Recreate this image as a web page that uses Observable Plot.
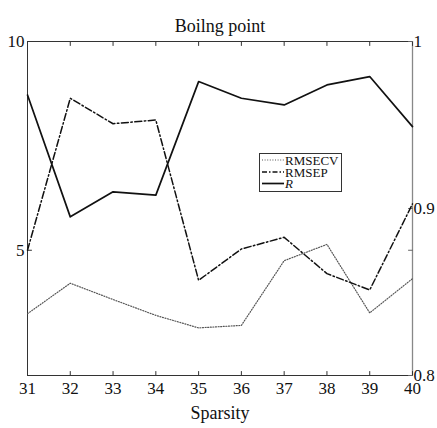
<!DOCTYPE html>
<html><head><meta charset="utf-8">
<script src="https://cdn.jsdelivr.net/npm/d3@7"></script>
<script src="https://cdn.jsdelivr.net/npm/@observablehq/plot@0.6"></script>
<style>
body{margin:0;background:#fff;}
#wrap{position:relative;width:437px;height:428px;}
#legend{position:absolute;left:259px;top:153px;}
#wrap svg, #wrap svg text{font-family:"Liberation Serif","Times New Roman",serif !important;}
</style></head><body><div id="wrap"></div>
<script>
const sparsity = [31, 32, 33, 34, 35, 36, 37, 38, 39, 40];
const rmsecv = [3.48, 4.21, 3.82, 3.44, 3.14, 3.20, 4.75, 5.14, 3.50, 4.32];
const rmsep  = [5.00, 8.64, 8.03, 8.12, 4.28, 5.03, 5.31, 4.44, 4.05, 6.11];
const rValues = [0.968, 0.895, 0.910, 0.908, 0.976, 0.966, 0.962, 0.974, 0.979, 0.949];
const xTicks = sparsity;
const leftTicks = [5, 10];
const rightTicks = [0.8, 0.9, 1];
const leftDomain = [2, 10];
const rightDomain = [0.8, 1];
const seriesNames = ["RMSECV", "RMSEP", "R"];
const titleText = "Boilng point";
const xLabel = "Sparsity";

const toLeft = r => leftDomain[0] + (r - rightDomain[0]) / (rightDomain[1] - rightDomain[0]) * (leftDomain[1] - leftDomain[0]);
const fromLeft = v => rightDomain[0] + (v - leftDomain[0]) / (leftDomain[1] - leftDomain[0]) * (rightDomain[1] - rightDomain[0]);

const data = sparsity.map((s, i) => ({s, rmsecv: rmsecv[i], rmsep: rmsep[i], r: toLeft(rValues[i])}));

const tickShape = {draw(ctx, l) { ctx.moveTo(0, 0); ctx.lineTo(0, -l); }};
const tickOpts = {length: 4, anchor: "start", shape: tickShape, stroke: "#333", strokeWidth: 1};
const font = "'Liberation Serif', 'Times New Roman', serif";

const chart = Plot.plot({
  width: 437, height: 428,
  marginLeft: 27, marginRight: 25, marginTop: 41, marginBottom: 53,
  style: {fontFamily: font, fontSize: "17px", background: "#fff", color: "#111"},
  x: {domain: [sparsity[0], sparsity[sparsity.length - 1]]},
  y: {domain: leftDomain},
  marks: [
    Plot.frame({stroke: "#333"}),
    Plot.ruleX([sparsity[sparsity.length - 1]], {stroke: "#888", strokeWidth: 1.3}),
    Plot.axisX(xTicks, {tickSize: 0, tickPadding: 6, fontSize: 17, label: null}),
    Plot.axisY(leftTicks, {anchor: "left", tickSize: 0, tickPadding: 3, fontSize: 17, label: null}),
    Plot.axisY(rightTicks.map(toLeft), {anchor: "right", tickSize: 0, tickPadding: 1, fontSize: 17, label: null,
      tickFormat: d => String(+fromLeft(d).toFixed(1))}),
    Plot.vector(xTicks, {x: d => d, frameAnchor: "bottom", rotate: 0, ...tickOpts}),
    Plot.vector(xTicks, {x: d => d, frameAnchor: "top", rotate: 180, ...tickOpts}),
    Plot.vector(leftTicks, {y: d => d, frameAnchor: "left", rotate: 90, ...tickOpts}),
    Plot.vector(rightTicks.map(toLeft).concat(leftTicks.slice(0, 1)), {y: d => d, frameAnchor: "right", rotate: 270, ...tickOpts, stroke: "#666"}),
    Plot.line(data, {x: "s", y: "rmsecv", stroke: "#555", strokeWidth: 1.2, strokeDasharray: "1,1.6"}),
    Plot.line(data, {x: "s", y: "rmsep", stroke: "#111", strokeWidth: 1.5, strokeDasharray: "7,2.5,1.5,2.5"}),
    Plot.line(data, {x: "s", y: "r", stroke: "#111", strokeWidth: 1.7}),
    Plot.text([titleText], {text: d => d, frameAnchor: "top", dy: -22, fontSize: 18}),
    Plot.text([xLabel], {text: d => d, frameAnchor: "bottom", dy: 43, fontSize: 18})
  ]
});
const wrap = document.getElementById("wrap");
wrap.appendChild(chart);

// legend
const styles = [
  {stroke: "#555", w: 1.2, dash: "1,1.6", italic: false},
  {stroke: "#111", w: 1.5, dash: "5,2,1.5,2", italic: false},
  {stroke: "#111", w: 1.7, dash: null, italic: true}
];
const lg = d3.create("svg").attr("id", "legend").attr("width", 84).attr("height", 40)
  .style("font-size", "13px");
lg.append("rect").attr("x", 0.5).attr("y", 0.5).attr("width", 82).attr("height", 38)
  .attr("fill", "#fff").attr("stroke", "#333");
const rowY = [7, 19, 30.5];
seriesNames.forEach((name, i) => {
  const st = styles[i];
  lg.append("line").attr("x1", 3).attr("x2", 25).attr("y1", rowY[i]).attr("y2", rowY[i])
    .attr("stroke", st.stroke).attr("stroke-width", st.w).attr("stroke-dasharray", st.dash);
  lg.append("text").attr("x", 26).attr("y", rowY[i]).attr("dy", "0.35em")
    .attr("fill", "#111").style("font-style", st.italic ? "italic" : "normal").text(name);
});
wrap.appendChild(lg.node());
</script></body></html>
